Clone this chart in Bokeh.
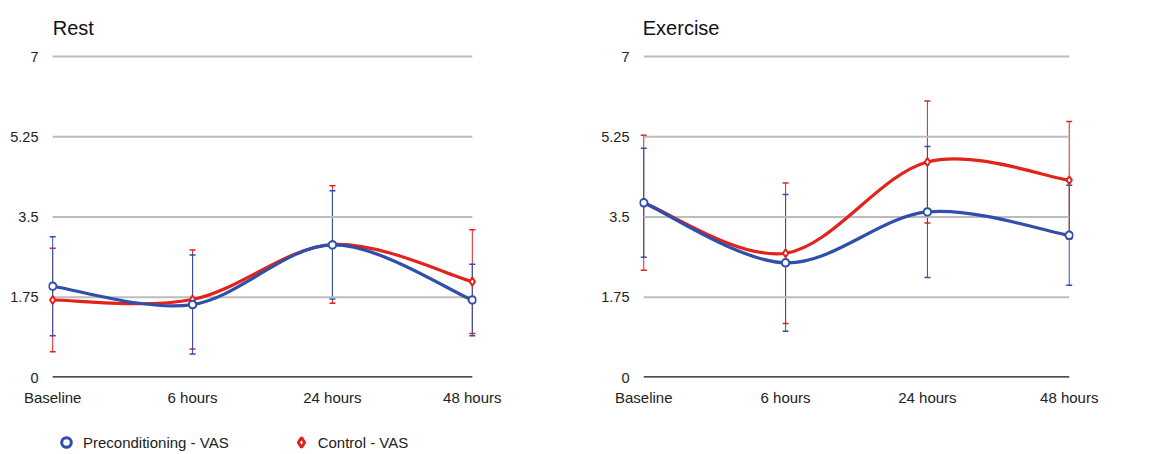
from bokeh.plotting import figure
from bokeh.models import (Range1d, FixedTicker, ColumnDataSource, Whisker, TeeHead,
                          Legend, LegendItem, Label)
from bokeh.layouts import row, column
from bokeh.embed import file_html
from bokeh.resources import INLINE

categories = ["Baseline", "6 hours", "24 hours", "48 hours"]
y_ticks = [0, 1.75, 3.5, 5.25, 7]
y_tick_labels = ["0", "1.75", "3.5", "5.25", "7"]

rest_pre = [1.99, 1.59, 2.89, 1.69]
rest_pre_err = [1.08, 1.08, 1.18, 0.78]
rest_ctl = [1.69, 1.70, 2.90, 2.09]
rest_ctl_err = [1.13, 1.08, 1.28, 1.13]

ex_pre = [3.81, 2.50, 3.61, 3.10]
ex_pre_err = [1.19, 1.49, 1.43, 1.09]
ex_ctl = [3.81, 2.71, 4.70, 4.30]
ex_ctl_err = [1.47, 1.53, 1.33, 1.28]

legend_labels = ["Preconditioning - VAS", "Control - VAS"]

BLUE = "#2f4fab"
RED = "#e3221c"
FONT = "Liberation Sans"
TXT = "#222222"

FRAME_H = 377          # frame height in px (title area included)
PLOT_H = 321           # px between value 0 and value 7
Y_TOP = 7 * FRAME_H / PLOT_H


def curve_source(ys):
    xs = list(range(len(ys)))
    n = len(ys)
    d = dict(x0=[], y0=[], x1=[], y1=[], cx0=[], cy0=[], cx1=[], cy1=[])
    for i in range(n - 1):
        pv = max(i - 1, 0)
        nx = min(i + 2, n - 1)
        d["x0"].append(xs[i]); d["y0"].append(ys[i])
        d["x1"].append(xs[i + 1]); d["y1"].append(ys[i + 1])
        d["cx0"].append(xs[i] + (xs[i + 1] - xs[pv]) / 6)
        d["cy0"].append(ys[i] + (ys[i + 1] - ys[pv]) / 6)
        d["cx1"].append(xs[i + 1] - (xs[nx] - xs[i]) / 6)
        d["cy1"].append(ys[i + 1] - (ys[nx] - ys[i]) / 6)
    return ColumnDataSource(d)


def make_fig(title, pre, pre_err, ctl, ctl_err, width, left, right, title_dx):
    p = figure(width=width, height=FRAME_H + 41, output_backend="svg",
               toolbar_location=None,
               x_range=Range1d(-0.03, 3.03), y_range=Range1d(0, Y_TOP),
               min_border_left=left, min_border_right=right,
               min_border_top=0, min_border_bottom=41)
    p.outline_line_color = None
    p.background_fill_color = "white"
    p.border_fill_color = "white"

    p.add_layout(Label(x=0, y=FRAME_H - 27, x_units="data", y_units="screen",
                       x_offset=title_dx,
                       text=title, text_font=FONT, text_font_size="20px",
                       text_color="#111111", text_baseline="alphabetic",
                       text_align="left"))

    xs = list(range(len(categories)))
    p.xaxis.ticker = FixedTicker(ticks=xs)
    p.xaxis.major_label_overrides = {i: c for i, c in zip(xs, categories)}
    p.xaxis.major_tick_line_color = None
    p.xaxis.minor_tick_line_color = None
    p.xaxis.major_tick_out = 0
    p.xaxis.major_tick_in = 0
    p.xaxis.axis_line_color = None
    p.xaxis.major_label_standoff = 11
    p.xaxis.major_label_text_font = FONT
    p.xaxis.major_label_text_font_size = "15px"
    p.xaxis.major_label_text_color = TXT

    p.yaxis.ticker = FixedTicker(ticks=y_ticks)
    p.yaxis.major_label_overrides = {t: l for t, l in zip(y_ticks, y_tick_labels)}
    p.yaxis.axis_line_color = None
    p.yaxis.major_tick_line_color = None
    p.yaxis.minor_tick_line_color = None
    p.yaxis.major_tick_out = 0
    p.yaxis.major_tick_in = 0
    p.yaxis.major_label_standoff = 10
    p.yaxis.major_label_text_font = FONT
    p.yaxis.major_label_text_font_size = "14.5px"
    p.yaxis.major_label_text_color = TXT

    p.xgrid.grid_line_color = None
    p.ygrid.grid_line_color = None

    # horizontal gridlines spanning first..last category, baseline in black
    grid_y = y_ticks[1:]
    p.segment(x0=[xs[0]] * len(grid_y), x1=[xs[-1]] * len(grid_y),
              y0=grid_y, y1=grid_y, line_color="#bcbcbc", line_width=2)
    p.segment(x0=[xs[0]], x1=[xs[-1]], y0=[y_ticks[0]], y1=[y_ticks[0]],
              line_color="#111111", line_width=2.5)

    for ys, err, color, marker, size in [
        (ctl, ctl_err, RED, "diamond", 8),
        (pre, pre_err, BLUE, "circle", 7.5),
    ]:
        src = ColumnDataSource(dict(
            x=xs, y=ys,
            upper=[v + e for v, e in zip(ys, err)],
            lower=[v - e for v, e in zip(ys, err)]))
        w = Whisker(base="x", upper="upper", lower="lower", source=src,
                    line_color=color, line_width=1,
                    upper_head=TeeHead(size=6, line_color=color, line_width=1.5),
                    lower_head=TeeHead(size=6, line_color=color, line_width=1.5))
        p.add_layout(w)
        p.bezier(x0="x0", y0="y0", x1="x1", y1="y1", cx0="cx0", cy0="cy0",
                 cx1="cx1", cy1="cy1", source=curve_source(ys),
                 line_color=color, line_width=3.2)
        p.scatter("x", "y", source=src, marker=marker, size=size,
                  fill_color="white", line_color=color, line_width=2)
    return p


left = make_fig("Rest", rest_pre, rest_pre_err, rest_ctl, rest_ctl_err,
                width=580, left=48, right=104, title_dx=0)
right = make_fig("Exercise", ex_pre, ex_pre_err, ex_ctl, ex_ctl_err,
                 width=571, left=59, right=78, title_dx=-1)

# legend strip
lf = figure(width=580, height=36, output_backend="svg", toolbar_location=None,
            x_range=Range1d(0, 1), y_range=Range1d(0, 1),
            min_border_left=0, min_border_right=0, min_border_top=0, min_border_bottom=0)
lf.axis.visible = False
lf.grid.visible = False
lf.outline_line_color = None
r_pre = lf.scatter(x=[-10], y=[-10], marker="circle", size=11, fill_color="white",
                   line_color=BLUE, line_width=3)
r_ctl = lf.scatter(x=[-10], y=[-10], marker="diamond", size=14, fill_color="white",
                   line_color=RED, line_width=3)
lg = Legend(items=[
    LegendItem(label=legend_labels[0], renderers=[r_pre]),
    LegendItem(label=legend_labels[1], renderers=[r_ctl]),
], orientation="horizontal", location=(54, 0))
lg.glyph_width = 24
lg.glyph_height = 24
lg.label_standoff = 5
lg.spacing = 60
lg.padding = 0
lg.margin = 0
lg.border_line_color = None
lg.background_fill_alpha = 0
lg.label_text_font = FONT
lg.label_text_font_size = "15px"
lg.label_text_color = TXT
lf.add_layout(lg)

layout = column(row(left, right), lf)
open("out.html", "w").write(file_html(layout, INLINE))
